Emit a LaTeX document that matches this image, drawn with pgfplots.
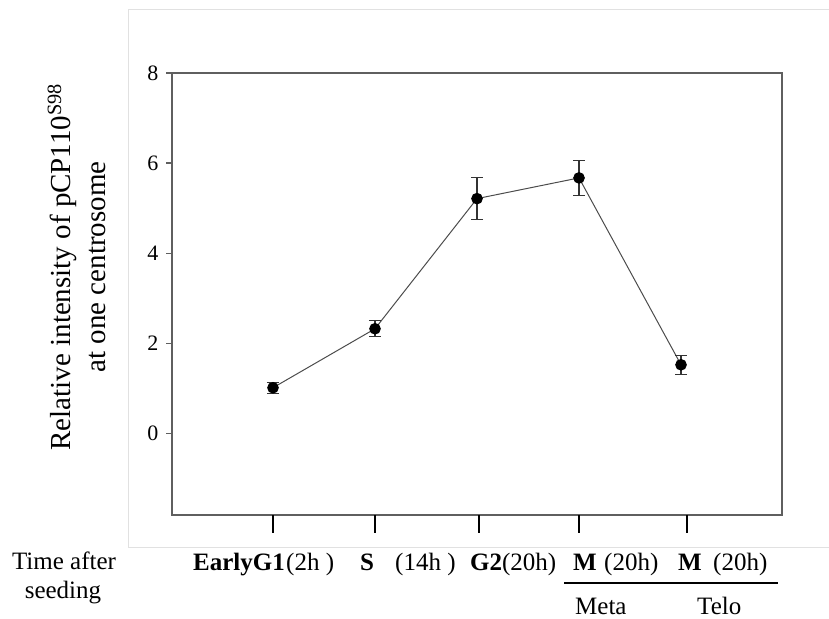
\documentclass[border=0pt]{standalone}
\usepackage{fontspec}
\setmainfont{Liberation Serif}
\usepackage{pgfplots}
\pgfplotsset{compat=1.18}
\usepackage{pgfplotstable}

\definecolor{frameGray}{RGB}{95,95,95}
\definecolor{boxGray}{RGB}{225,225,225}

% x, mean, error
\pgfplotstableread{
x   y     err
1   1.01  0.12
2   2.32  0.18
3   5.21  0.47
4   5.67  0.39
5   1.52  0.21
}\pcpdata

\newcommand{\lab}{\fontsize{25bp}{28bp}\selectfont}

\begin{document}
\begin{tikzpicture}
\useasboundingbox (0,0) rectangle (829bp,619bp);
% light frame round the plot region
\draw[boxGray, line width=0.8bp] (835bp,610bp) -- (128bp,610bp) -- (128bp,72bp) -- (835bp,72bp);

\begin{axis}[
    at={(172bp,104bp)}, anchor=south west,
    scale only axis, width=610bp, height=442bp,
    xmin=0.01, xmax=5.99, ymin=-1.816, ymax=8,
    axis line style={frameGray, line width=1.3bp},
    ytick={0,2,4,6,8},
    xtick=\empty,
    extra x ticks={1,2,3.02,4,5.06},
    extra x tick labels={},
    extra x tick style={major tick length=18bp, tick style={black, line width=1.4bp}},
    tick align=outside, tick pos=left,
    major tick length=6bp,
    ytick style={frameGray, line width=1.2bp},
    yticklabel style={font=\fontsize{22bp}{24bp}\selectfont, xshift=-4bp},
    /pgf/number format/assume math mode=true,
    clip=false,
]
\addplot[black!70, line width=1bp,
    mark=*, mark size=5.3bp, mark options={black, fill=black},
    error bars/.cd, y dir=both, y explicit,
    error bar style={black!80, line width=1.1bp},
    error mark options={rotate=90, mark size=6bp, black!80, line width=1.1bp}]
    table[x=x, y=y, y error=err] {\pcpdata};
\end{axis}

% y label, two lines
\node[rotate=90, anchor=base, font=\fontsize{29bp}{32bp}\selectfont] at (70bp,352bp)
    {Relative intensity of pCP110\textsuperscript{S98}};
\node[rotate=90, anchor=base, font=\fontsize{29bp}{32bp}\selectfont] at (105bp,352bp)
    {at one centrosome};

% x labels
\node[anchor=base, font=\lab] at (64bp,49bp) {Time after};
\node[anchor=base, font=\lab] at (63bp,21bp) {seeding};

\node[anchor=base west, font=\lab, inner sep=0pt] at (193bp,48bp) {\textbf{EarlyG1}};
\node[anchor=base west, font=\lab, inner sep=0pt] at (286bp,48bp) {(2h )};
\node[anchor=base west, font=\lab, inner sep=0pt] at (360bp,48bp) {\textbf{S}};
\node[anchor=base west, font=\lab, inner sep=0pt] at (395bp,48bp) {(14h )};
\node[anchor=base west, font=\lab, inner sep=0pt] at (470bp,48bp) {\textbf{G2}(20h)};
\node[anchor=base west, font=\lab, inner sep=0pt] at (573bp,48bp) {\textbf{M}};
\node[anchor=base west, font=\lab, inner sep=0pt] at (604bp,48bp) {(20h)};
\node[anchor=base west, font=\lab, inner sep=0pt] at (678bp,48bp) {\textbf{M}};
\node[anchor=base west, font=\lab, inner sep=0pt] at (713bp,48bp) {(20h)};

\draw[black, line width=1.6bp] (564bp,36bp) -- (778bp,36bp);
\node[anchor=base west, font=\lab, inner sep=0pt] at (575bp,5bp) {Meta};
\node[anchor=base west, font=\lab, inner sep=0pt] at (697bp,5bp) {Telo};
\end{tikzpicture}
\end{document}
